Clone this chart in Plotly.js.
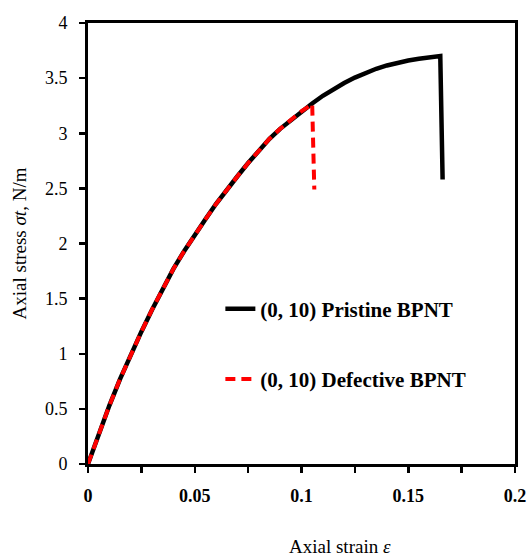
<!DOCTYPE html>
<html>
<head>
<meta charset="utf-8">
<script src="https://cdn.plot.ly/plotly-3.0.1.min.js"></script>
<style>html,body{margin:0;padding:0;background:#fff;}#chart{width:529px;height:560px;}</style>
</head>
<body>
<div id="chart"></div>
<script>
var pristineStrain = [0, 0.005, 0.01, 0.015, 0.02, 0.025, 0.03, 0.035, 0.04, 0.045, 0.05, 0.055, 0.06, 0.065, 0.07, 0.075, 0.08, 0.085, 0.09, 0.095, 0.1, 0.105, 0.11, 0.115, 0.12, 0.125, 0.13, 0.135, 0.14, 0.145, 0.15, 0.155, 0.16, 0.165, 0.1661];
var pristineStress = [0, 0.27, 0.53, 0.77, 0.99, 1.2, 1.4, 1.59, 1.77, 1.93, 2.08, 2.22, 2.36, 2.49, 2.61, 2.73, 2.84, 2.95, 3.04, 3.12, 3.2, 3.27, 3.34, 3.4, 3.455, 3.505, 3.55, 3.585, 3.615, 3.64, 3.66, 3.675, 3.69, 3.7, 2.58];
var defectStrain = [0, 0.005, 0.01, 0.015, 0.02, 0.025, 0.03, 0.035, 0.04, 0.045, 0.05, 0.055, 0.06, 0.065, 0.07, 0.075, 0.08, 0.085, 0.09, 0.095, 0.1, 0.104, 0.105, 0.106];
var defectStress = [0, 0.27, 0.53, 0.77, 0.99, 1.2, 1.4, 1.59, 1.77, 1.93, 2.08, 2.22, 2.36, 2.49, 2.61, 2.73, 2.84, 2.95, 3.04, 3.12, 3.2, 3.25, 3.265, 2.49];
var seriesNames = ["<b>(0, 10) Pristine BPNT</b>", "<b>(0, 10) Defective BPNT</b>"];
var xTitle = "Axial strain <i>ε</i>";
var yTitle = "Axial stress <i>σt</i>, N/m";

var FONT = "'Liberation Serif','Times New Roman',Times,serif";

var traces = [
  {x: pristineStrain, y: pristineStress, type: 'scatter', mode: 'lines', name: seriesNames[0],
   legendgroup: 'a', line: {color: '#000000', width: 4.5}},
  {x: defectStrain, y: defectStress, type: 'scatter', mode: 'lines', name: seriesNames[1],
   legendgroup: 'b', line: {color: '#ff0000', width: 4, dash: '10px,6px'}}
];

var layout = {
  width: 529, height: 560,
  margin: {l: 88, r: 14, t: 23, b: 96},
  paper_bgcolor: '#ffffff', plot_bgcolor: '#ffffff',
  font: {family: FONT, color: '#000000'},
  showlegend: true,
  legend: {
    x: 0.31, y: 0.398, xanchor: 'left', yanchor: 'top',
    bgcolor: 'rgba(0,0,0,0)', borderwidth: 0,
    font: {family: FONT, size: 21, color: '#000'},
    traceorder: 'grouped', tracegroupgap: 40
  },
  xaxis: {
    range: [0, 0.2], dtick: 0.05, tick0: 0,
    showgrid: false, zeroline: false,
    showline: true, linecolor: '#000', linewidth: 3, mirror: true,
    ticks: 'outside', ticklen: 6, tickwidth: 2.5, tickcolor: '#000',
    minor: {dtick: 0.025, ticks: 'outside', ticklen: 6, tickwidth: 2.5, tickcolor: '#000'},
    tickfont: {family: FONT, size: 18, color: '#000', weight: 'bold'},
    ticklabelstandoff: 7
  },
  yaxis: {
    range: [0, 4], dtick: 0.5, tick0: 0,
    showgrid: false, zeroline: false,
    showline: true, linecolor: '#000', linewidth: 3, mirror: true,
    ticks: 'outside', ticklen: 6, tickwidth: 2.5, tickcolor: '#000',
    tickfont: {family: FONT, size: 18, color: '#000'},
    ticklabelstandoff: 8,
    title: {text: yTitle, font: {family: FONT, size: 19, color: '#000'}, standoff: 14}
  },
  annotations: [
    {text: xTitle, xref: 'paper', yref: 'paper', x: 0.59, y: -0.186, xanchor: 'center', yanchor: 'middle',
     showarrow: false, font: {family: FONT, size: 19, color: '#000'}}
  ]
};

Plotly.newPlot('chart', traces, layout, {displayModeBar: false, staticPlot: true});
</script>
</body>
</html>
